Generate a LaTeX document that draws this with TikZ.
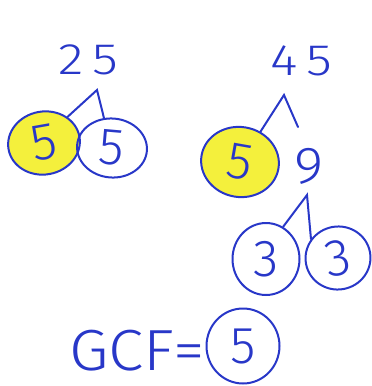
\documentclass[tikz,border=0pt]{standalone}
\usepackage{fontspec}
\setmainfont{Fira Sans}[UprightFont=* Light]
\usetikzlibrary{shapes.geometric}

\definecolor{ink}{RGB}{40,55,200}
\definecolor{marker}{RGB}{244,240,60}

\begin{document}
\begin{tikzpicture}[x=1pt, y=-1pt, line width=2pt, line cap=round,
    num/.style={text=ink, font=\fontsize{44}{44}\selectfont, xscale=1.2},
    ring/.style={ellipse, draw=ink, line width=2pt, inner sep=0pt, text=ink,
      font=\fontsize{52}{52}\selectfont},
    branch/.style={draw=ink, line width=2pt}]
  \useasboundingbox (0,0) rectangle (372,386);
  % 25 的因数树
  \node[num] (n25) at (88,60) {2\,5};
  \node[ring, fill=marker, minimum width=72pt, minimum height=63pt, rotate=10] (a5) at (44,143) {5};
  \node[ring, minimum width=70pt, minimum height=59pt, rotate=-5] (b5) at (112,148) {5};
  \coordinate (p25) at (97,90);
  \draw[branch] (a5.38) -- (p25) -- (b5.110);
  % 45 的因数树
  \node[num] (n45) at (301,61) {4\,5};
  \node[ring, fill=marker, minimum width=78pt, minimum height=70pt, rotate=-10] (c5) at (240,162) {5};
  \node[num, font=\fontsize{52}{52}\selectfont, xscale=0.9] (n9) at (309,166) {9};
  \coordinate (p45) at (284,95);
  \coordinate (q45) at (298,127);
  \draw[branch] (c5.66) -- (p45) -- (q45);
  % 9 的因数树
  \node[ring, minimum width=67pt, minimum height=72pt] (d3) at (266,259) {3};
  \node[ring, minimum width=65pt, minimum height=63pt, rotate=10] (e3) at (338,258) {3};
  \coordinate (p9) at (307,195);
  \draw[branch] (d3.62) -- (p9) -- (e3.135);
  % 结果
  \node[text=ink, font=\fontsize{58}{58}\selectfont, xscale=1.1] (gcf) at (137,351) {GCF=};
  \node[ring, minimum width=73pt, minimum height=75pt] (g5) at (243,346) {5};
\end{tikzpicture}
\end{document}
